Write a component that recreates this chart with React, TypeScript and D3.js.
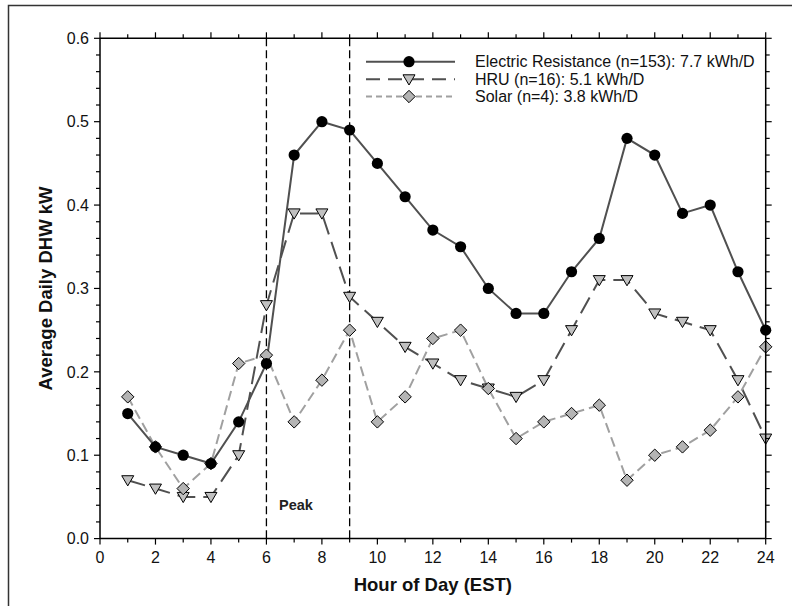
import React from "react";
import * as d3 from "d3";

const hours = d3.range(1, 25);
const electricResistance = [0.15, 0.11, 0.10, 0.09, 0.14, 0.21, 0.46, 0.50, 0.49, 0.45, 0.41, 0.37, 0.35, 0.30, 0.27, 0.27, 0.32, 0.36, 0.48, 0.46, 0.39, 0.40, 0.32, 0.25];
const hru = [0.07, 0.06, 0.05, 0.05, 0.10, 0.28, 0.39, 0.39, 0.29, 0.26, 0.23, 0.21, 0.19, 0.18, 0.17, 0.19, 0.25, 0.31, 0.31, 0.27, 0.26, 0.25, 0.19, 0.12];
const solar = [0.17, 0.11, 0.06, 0.09, 0.21, 0.22, 0.14, 0.19, 0.25, 0.14, 0.17, 0.24, 0.25, 0.18, 0.12, 0.14, 0.15, 0.16, 0.07, 0.10, 0.11, 0.13, 0.17, 0.23];
const seriesLabels = [
  "Electric Resistance (n=153): 7.7 kWh/D",
  "HRU (n=16): 5.1 kWh/D",
  "Solar (n=4): 3.8 kWh/D",
];
const xTicks = [0, 2, 4, 6, 8, 10, 12, 14, 16, 18, 20, 22, 24];
const yTicks = [0, 0.1, 0.2, 0.3, 0.4, 0.5, 0.6];
const peakHours = [6, 9];

const FONT = "'Liberation Sans', Arial, sans-serif";
const W = 792;
const H = 606;
const left = 100;
const right = 765.7;
const top = 38.3;
const bottom = 538.6;

const x = d3.scaleLinear().domain([0, 24]).range([left, right]);
const y = d3.scaleLinear().domain([0, 0.6]).range([bottom, top]);

type Marker = "circle" | "triangle" | "diamond";

const seriesDefs = [
  { values: hru, marker: "triangle" as Marker, stroke: "#505050", dash: "18,8", fill: "#c0c0c0" },
  { values: solar, marker: "diamond" as Marker, stroke: "#a0a0a0", dash: "10,5", fill: "#b4b4b4" },
  { values: electricResistance, marker: "circle" as Marker, stroke: "#505050", dash: undefined, fill: "#000" },
];

function MarkerShape({ kind, cx, cy, fill }: { kind: Marker; cx: number; cy: number; fill: string }) {
  if (kind === "circle") return <circle cx={cx} cy={cy} r={5.6} fill="#000" />;
  if (kind === "triangle") {
    const s = 6;
    const p = `${cx - s},${cy - s * 0.75} ${cx + s},${cy - s * 0.75} ${cx},${cy + s * 0.95}`;
    return <polygon points={p} fill={fill} stroke="#000" strokeWidth={1} />;
  }
  const s = 6.2;
  const p = `${cx},${cy - s} ${cx + s},${cy} ${cx},${cy + s} ${cx - s},${cy}`;
  return <polygon points={p} fill={fill} stroke="#000" strokeWidth={1} />;
}

export default function App() {
  const line = d3
    .line<number>()
    .x((_, i) => x(hours[i]))
    .y((d) => y(d));

  const minorX = d3.range(0, 25);
  const minorY = d3.range(0, 0.6001, 0.02);

  const legendRows = [
    { ...seriesDefs[2], label: seriesLabels[0], ly: 61.7, dashL: undefined },
    { ...seriesDefs[0], label: seriesLabels[1], ly: 79.3, dashL: "14,8" },
    { ...seriesDefs[1], label: seriesLabels[2], ly: 96.5, dashL: "6,4" },
  ];

  return (
    <svg width={W} height={H} style={{ position: "absolute", left: 0, top: 0 }} fontFamily={FONT}>
      <rect x={0} y={0} width={W} height={H} fill="#fff" />
      <rect x={8.5} y={5.5} width={800} height={620} fill="none" stroke="#333" strokeWidth={1.5} />

      {/* peak window boundaries */}
      {peakHours.map((h) => (
        <line key={h} x1={x(h)} x2={x(h)} y1={top} y2={bottom} stroke="#000" strokeWidth={1.3} strokeDasharray="8,4" />
      ))}
      <text x={279} y={510} fontSize={14.5} fontWeight="bold" fill="#222">Peak</text>

      {/* series lines */}
      {seriesDefs.map((s, i) => (
        <path key={i} d={line(s.values) || ""} fill="none" stroke={s.stroke} strokeWidth={2} strokeDasharray={s.dash} />
      ))}
      {seriesDefs.map((s, i) => (
        <g key={i}>
          {s.values.map((v, j) => (
            <MarkerShape key={j} kind={s.marker} cx={x(hours[j])} cy={y(v)} fill={s.fill} />
          ))}
        </g>
      ))}

      {/* frame axes */}
      <g stroke="#000" strokeWidth={1.5}>
        <line x1={left} x2={right} y1={bottom} y2={bottom} />
        <line x1={left} x2={right} y1={top} y2={top} />
        <line x1={left} x2={left} y1={top} y2={bottom} />
        <line x1={right} x2={right} y1={top} y2={bottom} />
      </g>
      <g stroke="#000" strokeWidth={1.2}>
        {minorX.map((h) => {
          const major = h % 2 === 0;
          const len = major ? 6 : 4;
          return (
            <g key={h}>
              <line x1={x(h)} x2={x(h)} y1={bottom} y2={bottom + len} />
              <line x1={x(h)} x2={x(h)} y1={top} y2={top - len} />
            </g>
          );
        })}
        {minorY.map((v, i) => {
          const major = i % 5 === 0;
          const len = major ? 6 : 4;
          return (
            <g key={i}>
              <line x1={left - len} x2={left} y1={y(v)} y2={y(v)} />
              <line x1={right} x2={right + len} y1={y(v)} y2={y(v)} />
            </g>
          );
        })}
      </g>

      {/* tick labels */}
      {xTicks.map((t) => (
        <text key={t} x={x(t)} y={563} fontSize={16} textAnchor="middle" fill="#111">{t}</text>
      ))}
      {yTicks.map((t) => (
        <text key={t} x={left - 11} y={y(t) + 5.7} fontSize={16} textAnchor="end" fill="#111">{t.toFixed(1)}</text>
      ))}

      {/* axis titles */}
      <text x={(left + right) / 2} y={591} fontSize={18.5} fontWeight="bold" textAnchor="middle" fill="#111">Hour of Day (EST)</text>
      <text transform={`translate(52,${(top + bottom) / 2}) rotate(-90)`} fontSize={18.5} fontWeight="bold" textAnchor="middle" fill="#111">Average Daily DHW kW</text>

      {/* legend */}
      {legendRows.map((r, i) => (
        <g key={i}>
          <line x1={366} x2={455} y1={r.ly} y2={r.ly} stroke={r.stroke} strokeWidth={2} strokeDasharray={r.dashL} />
          <MarkerShape kind={r.marker} cx={409} cy={r.ly} fill={r.fill} />
          <text x={475} y={r.ly + 5.6} fontSize={16} fill="#111">{r.label}</text>
        </g>
      ))}
    </svg>
  );
}
